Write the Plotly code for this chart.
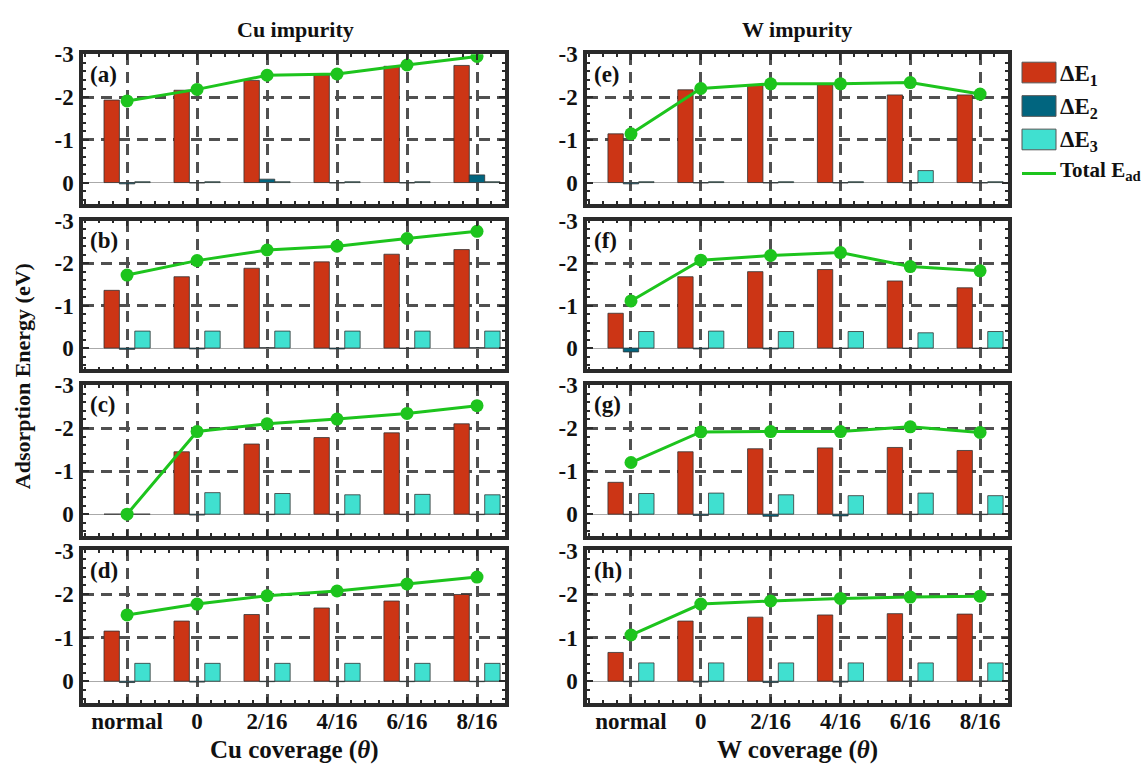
import plotly.graph_objects as go

W, H = 1148, 767

categories = ["normal", "0", "2/16", "4/16", "6/16", "8/16"]
yticks = [-3, -2, -1, 0]
ytick_text = ["-3", "-2", "-1", "0"]

# Cu impurity panels (a)-(d)
a_dE1 = [-1.93, -2.16, -2.39, -2.52, -2.72, -2.74]
a_dE2 = [0.03, 0.01, -0.08, 0.01, 0.01, -0.18]
a_dE3 = [-0.02, -0.02, -0.02, -0.02, -0.02, -0.02]
a_total = [-1.91, -2.18, -2.51, -2.54, -2.75, -2.95]

b_dE1 = [-1.36, -1.68, -1.88, -2.03, -2.21, -2.32]
b_dE2 = [0.03, 0.02, -0.01, 0.02, 0.01, -0.01]
b_dE3 = [-0.40, -0.40, -0.40, -0.40, -0.40, -0.40]
b_total = [-1.72, -2.06, -2.31, -2.40, -2.58, -2.75]

c_dE1 = [0.0, -1.45, -1.63, -1.78, -1.89, -2.10]
c_dE2 = [0.0, 0.02, 0.01, 0.01, 0.01, 0.01]
c_dE3 = [0.0, -0.50, -0.48, -0.45, -0.46, -0.45]
c_total = [0.0, -1.92, -2.10, -2.21, -2.34, -2.52]

d_dE1 = [-1.15, -1.38, -1.53, -1.68, -1.84, -1.99]
d_dE2 = [0.03, 0.02, 0.01, 0.01, 0.01, 0.01]
d_dE3 = [-0.41, -0.41, -0.41, -0.41, -0.41, -0.41]
d_total = [-1.52, -1.77, -1.96, -2.07, -2.23, -2.39]

# W impurity panels (e)-(h)
e_dE1 = [-1.14, -2.17, -2.29, -2.29, -2.05, -2.05]
e_dE2 = [0.03, 0.01, 0.01, 0.01, 0.01, 0.01]
e_dE3 = [-0.02, -0.02, -0.02, -0.02, -0.28, -0.02]
e_total = [-1.14, -2.20, -2.31, -2.31, -2.34, -2.07]

f_dE1 = [-0.82, -1.68, -1.80, -1.85, -1.58, -1.42]
f_dE2 = [0.09, 0.02, 0.02, 0.01, 0.01, 0.01]
f_dE3 = [-0.39, -0.40, -0.39, -0.39, -0.36, -0.39]
f_total = [-1.11, -2.07, -2.18, -2.25, -1.92, -1.82]

g_dE1 = [-0.74, -1.45, -1.52, -1.54, -1.55, -1.48]
g_dE2 = [0.01, 0.03, 0.05, 0.04, 0.01, 0.01]
g_dE3 = [-0.48, -0.49, -0.45, -0.43, -0.49, -0.43]
g_total = [-1.20, -1.91, -1.92, -1.92, -2.03, -1.90]

h_dE1 = [-0.66, -1.38, -1.47, -1.52, -1.55, -1.54]
h_dE2 = [0.01, 0.02, 0.03, 0.02, 0.0, 0.0]
h_dE3 = [-0.42, -0.42, -0.42, -0.42, -0.42, -0.42]
h_total = [-1.06, -1.77, -1.84, -1.90, -1.93, -1.95]

panel_labels = ["(a)", "(b)", "(c)", "(d)", "(e)", "(f)", "(g)", "(h)"]
panels = [
    (a_dE1, a_dE2, a_dE3, a_total),
    (b_dE1, b_dE2, b_dE3, b_total),
    (c_dE1, c_dE2, c_dE3, c_total),
    (d_dE1, d_dE2, d_dE3, d_total),
    (e_dE1, e_dE2, e_dE3, e_total),
    (f_dE1, f_dE2, f_dE3, f_total),
    (g_dE1, g_dE2, g_dE3, g_total),
    (h_dE1, h_dE2, h_dE3, h_total),
]

C1, C2, C3 = "#CC3515", "#01657F", "#40E0D0"
CG = "#1DC41D"
FRAME = "#2a2a2a"
GRID = "#505050"
FONT = "Liberation Serif"

def px(x):
    return x / W

def py(y):
    return 1 - y / H

col_x = [(83, 505), (587, 1008)]
row_y = [(43, 195), (212, 363), (379, 532), (547, 702)]

xnum = list(range(len(categories)))

fig = go.Figure()
layout = {}
annotations = []

tickfont = dict(family=FONT, size=23, color="#111", weight="bold")

for i, (dE1, dE2, dE3, tot) in enumerate(panels):
    col = i // 4
    row = i % 4
    n = i + 1
    xa = "x" if n == 1 else f"x{n}"
    ya = "y" if n == 1 else f"y{n}"
    lw = dict(color="#333333", width=0.8)
    fig.add_trace(go.Bar(x=xnum, y=dE1, marker=dict(color=C1, line=lw), xaxis=xa, yaxis=ya,
                         name="ΔE1", showlegend=False))
    fig.add_trace(go.Bar(x=xnum, y=dE2, marker=dict(color=C2, line=lw), xaxis=xa, yaxis=ya,
                         name="ΔE2", showlegend=False))
    fig.add_trace(go.Bar(x=xnum, y=dE3, marker=dict(color=C3, line=lw), xaxis=xa, yaxis=ya,
                         name="ΔE3", showlegend=False))
    fig.add_trace(go.Scatter(x=xnum, y=tot, mode="lines+markers",
                             line=dict(color=CG, width=3), marker=dict(color=CG, size=13),
                             xaxis=xa, yaxis=ya, name="Total Ead", showlegend=False))
    x0, x1 = col_x[col]
    y0, y1 = row_y[row]
    xkey = "xaxis" if n == 1 else f"xaxis{n}"
    ykey = "yaxis" if n == 1 else f"yaxis{n}"
    layout[xkey] = dict(
        domain=[px(x0), px(x1)], anchor=ya, range=[-0.63, 5.4],
        tickmode="array", tickvals=xnum, ticktext=categories,
        showticklabels=(row == 3),
        tickfont=tickfont,
        ticks="inside", ticklen=6, tickwidth=2, tickcolor=FRAME,
        showline=True, linewidth=3.5, linecolor=FRAME, mirror="ticks",
        showgrid=True, gridcolor=GRID, gridwidth=2.5, griddash="11px,7px",
        zeroline=False,
        minor=dict(tickmode="linear", tick0=0, dtick=0.2, ticks="inside", ticklen=3,
                   tickwidth=1.5, tickcolor=FRAME, showgrid=False),
        ticklabelstandoff=-5,
    )
    layout[ykey] = dict(
        domain=[py(y1), py(y0)], anchor=xa, range=[0.5, -3],
        tickmode="array", tickvals=yticks, ticktext=ytick_text,
        tickfont=tickfont,
        ticks="inside", ticklen=6, tickwidth=2, tickcolor=FRAME,
        showline=True, linewidth=3.5, linecolor=FRAME, mirror="ticks",
        showgrid=True, gridcolor=GRID, gridwidth=2.5, griddash="11px,7px",
        zeroline=True, zerolinecolor="#aaaaaa", zerolinewidth=1,
        minor=dict(tickmode="linear", tick0=0, dtick=0.2, ticks="inside", ticklen=3,
                   tickwidth=1.5, tickcolor=FRAME, showgrid=False),
        ticklabelstandoff=1,
    )
    annotations.append(dict(text=f"<b>{panel_labels[i]}</b>", x=px(x0 + 5), y=py(y0 + 20),
                            xref="paper", yref="paper", xanchor="left", yanchor="middle",
                            showarrow=False, font=dict(family=FONT, size=23, color="#111")))

# titles
def ann(text, x, y, size, angle=0, anchor="center"):
    annotations.append(dict(text=text, x=px(x), y=py(y), xref="paper", yref="paper",
                            xanchor=anchor, yanchor="middle", showarrow=False, textangle=angle,
                            font=dict(family=FONT, size=size, color="#111")))

ann("<b>Cu impurity</b>", 295, 18, 22)
ann("<b>W impurity</b>", 797, 18, 22)
ann("<b>Cu coverage (<i>θ</i>)</b>", 294, 750, 25)
ann("<b>W coverage (<i>θ</i>)</b>", 797, 750, 25)
ann("<b>Adsorption Energy (eV)</b>", 22, 370, 22, angle=-90)

# legend (drawn manually)
shapes = []
leg_items = [(C1, 51, 72, "ΔE<sub>1</sub>"), (C2, 85, 106, "ΔE<sub>2</sub>"), (C3, 119, 140, "ΔE<sub>3</sub>")]
for color, t, b, label in leg_items:
    shapes.append(dict(type="rect", xref="paper", yref="paper", x0=px(1022), x1=px(1056),
                       y0=py(b), y1=py(t), fillcolor=color, line=dict(color="#555", width=1)))
    ann(f"<b>{label}</b>", 1058, (t + b) / 2 + 2, 23, anchor="left")
shapes.append(dict(type="line", xref="paper", yref="paper", x0=px(1022), x1=px(1056),
                   y0=py(164), y1=py(164), line=dict(color=CG, width=3)))
ann("<b>Total E<sub>ad</sub></b>", 1058, 162, 21, anchor="left")

fig.update_layout(
    width=W, height=H, autosize=False,
    margin=dict(l=0, r=0, t=0, b=0),
    paper_bgcolor="white", plot_bgcolor="white",
    barmode="group", bargap=0.34, bargroupgap=0,
    annotations=annotations, shapes=shapes,
    font=dict(family=FONT),
    **layout,
)

fig.write_html("out.html")
